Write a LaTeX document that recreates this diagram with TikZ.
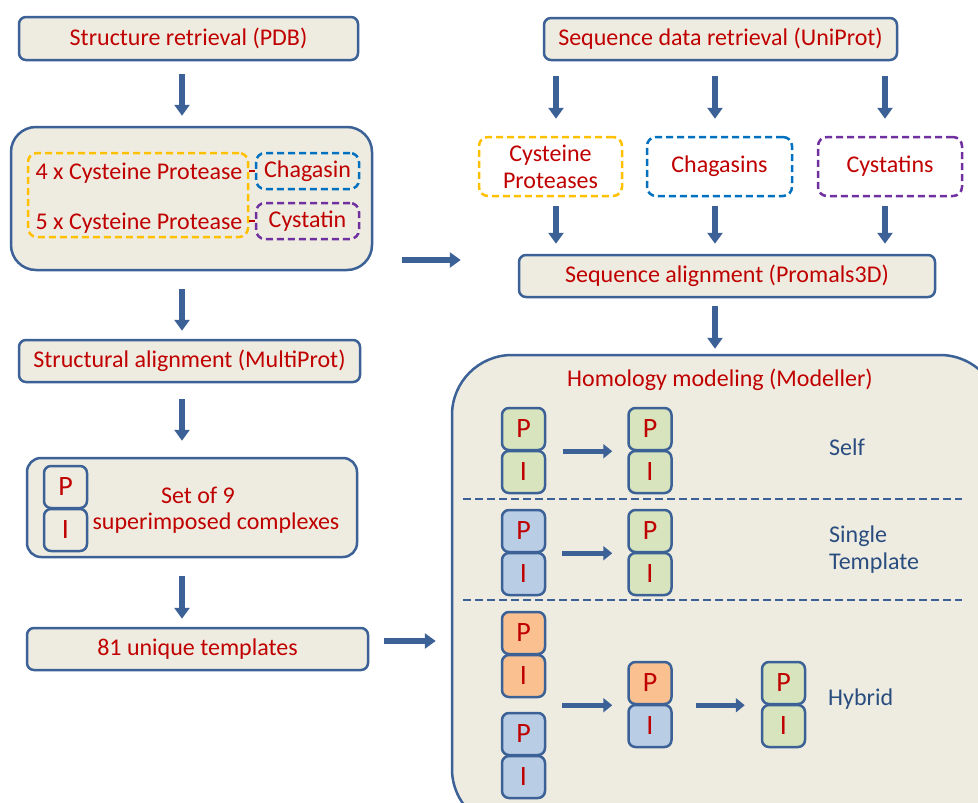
\documentclass[tikz,border=0pt]{standalone}
\usepackage{fontspec}
\setmainfont{Carlito}
\usetikzlibrary{arrows.meta,calc}
\definecolor{bfill}{HTML}{EEECE1}
\definecolor{bord}{HTML}{3B6196}
\definecolor{tred}{HTML}{C00000}
\definecolor{lblue}{HTML}{2A4D7F}
\definecolor{gfill}{HTML}{D7E4BD}
\definecolor{blfill}{HTML}{B9CDE5}
\definecolor{ofill}{HTML}{FAC090}
\definecolor{dyel}{HTML}{FFC000}
\definecolor{dblu}{HTML}{0070C0}
\definecolor{dpur}{HTML}{7030A0}
\newcommand\pistack[5]{%
  \node[pb,fill=#4] (#1p) at ({#2},{#3}) {P};
  \node[pb,fill=#5] (#1i) at ({#2},{#3+43}) {I};}
\begin{document}
\begin{tikzpicture}[x=1pt,y=-1pt,
  box/.style={draw=bord, fill=bfill, line width=2.5pt, rounded corners=7pt, text=tred,
    font=\fontsize{24}{28}\selectfont, inner sep=0pt},
  txt/.style={text=tred, font=\fontsize{24}{28}\selectfont, inner sep=0pt},
  lbl/.style={text=lblue, font=\fontsize{24}{28}\selectfont, inner sep=0pt, anchor=west, align=left},
  dbox/.style={draw=#1, line width=2.5pt, dash pattern=on 7pt off 4pt, rounded corners=9pt,
    text=tred, font=\fontsize{24}{28}\selectfont, inner sep=0pt, align=center},
  pb/.style={draw=bord, line width=2.5pt, rounded corners=7pt, minimum width=43pt,
    minimum height=42pt, inner sep=0pt, text=tred, font=\fontsize{28}{30}\selectfont},
  arr/.style={draw=bord, line width=5.5pt, -{Triangle[length=11pt,width=15pt]}},
  parr/.style={draw=bord, line width=5pt, -{Triangle[length=9pt,width=14pt]}},
  sep/.style={draw=bord, line width=2.5pt, dash pattern=on 8pt off 4pt},
  redln/.style={draw=tred, line width=1.5pt}]
\useasboundingbox (0,0) rectangle (978,803);
\clip (0,0) rectangle (978,803);

% ---------- left column ----------
\node[box, minimum width=339pt, minimum height=43pt] (b1) at (188.5,38.5) {Structure retrieval (PDB)};
\node[box, minimum width=361pt, minimum height=143pt, rounded corners=25pt] (b2) at (191.5,198.5) {};
\node[dbox=dyel, minimum width=220pt, minimum height=84pt] (ycp) at (138,195) {};
\node[txt] (cp4) at (139,173) {4 x Cysteine Protease};
\node[txt] (cp5) at (139,223) {5 x Cysteine Protease};
\node[dbox=dblu, minimum width=103pt, minimum height=36pt] (chag) at (307.5,171) {Chagasin};
\node[dbox=dpur, minimum width=103pt, minimum height=36pt] (cyst) at (307.5,221) {Cystatin};
\draw[redln] (ycp.east |- chag.west) -- (chag.west);
\draw[redln] (ycp.east |- cyst.west) -- (cyst.west);

\node[box, minimum width=341pt, minimum height=42pt] (b3) at (189.5,361) {Structural alignment (MultiProt)};
\node[box, minimum width=330pt, minimum height=99pt, rounded corners=14pt] (b4) at (192,507.5) {};
\pistack{bp}{65.5}{487}{bfill}{bfill}
\node[txt] (t4a) at (198,495) {Set of 9};
\node[txt] (t4b) at (216,523) {superimposed complexes};
\node[box, minimum width=341pt, minimum height=42pt] (b5) at (197.5,649) {81 unique templates};

\draw[arr, shorten <=13pt, shorten >=10pt] ([xshift=-6.5pt]b1.south) -- ([xshift=-9.5pt]b2.north);
\draw[arr, shorten <=18pt, shorten >=8pt] ([xshift=-9.5pt]b2.south) -- ([xshift=-7.5pt]b3.north);
\draw[arr, shorten <=16pt, shorten >=16pt] ([xshift=-7.5pt]b3.south) -- ([xshift=-10pt]b4.north);
\draw[arr, shorten <=18pt, shorten >=8pt] ([xshift=-10pt]b4.south) -- ([xshift=-15.5pt]b5.north);

% ---------- right column ----------
\node[box, minimum width=353pt, minimum height=42pt] (seq) at (720.5,39) {Sequence data retrieval (UniProt)};
\node[dbox=dyel, minimum width=143pt, minimum height=59pt] (dcp) at (550.5,166.5) {Cysteine\\[-1pt]Proteases};
\node[dbox=dblu, minimum width=145pt, minimum height=59pt] (dchg) at (719.5,166.5) {Chagasins};
\node[dbox=dpur, minimum width=144pt, minimum height=59pt] (dcys) at (890,166.5) {Cystatins};
\node[box, minimum width=416pt, minimum height=42pt] (aln) at (727,276) {Sequence alignment (Promals3D)};

\draw[arr, shorten <=15pt, shorten >=17pt] ([xshift=-164.5pt]seq.south) -- ([xshift=5.5pt]dcp.north);
\draw[arr, shorten <=15pt, shorten >=17pt] ([xshift=-5.5pt]seq.south) -- ([xshift=-4.5pt]dchg.north);
\draw[arr, shorten <=15pt, shorten >=17pt] ([xshift=164.5pt]seq.south) -- ([xshift=-5pt]dcys.north);
\draw[arr, shorten <=9pt, shorten >=10pt] ([xshift=5.5pt]dcp.south) -- ([xshift=-171pt]aln.north);
\draw[arr, shorten <=9pt, shorten >=10pt] ([xshift=-4.5pt]dchg.south) -- ([xshift=-12pt]aln.north);
\draw[arr, shorten <=9pt, shorten >=10pt] ([xshift=-5pt]dcys.south) -- ([xshift=158pt]aln.north);

% ---------- homology modelling ----------
\node[box, minimum width=548pt, minimum height=474pt, rounded corners=60pt] (hom) at (726,592) {};
\node[txt] (homt) at (720,380) {Homology modeling (Modeller)};
\draw[arr, shorten <=8pt, shorten >=5pt] ([xshift=-12pt]aln.south) -- ([xshift=-11pt]hom.north);

\draw[arr, shorten <=29pt, shorten >=57pt] ([yshift=-61.5pt]b2.east) -- ([yshift=16pt]aln.west);
\draw[arr, shorten <=15pt, shorten >=15pt] ([yshift=8pt]b5.east) -- ([yshift=-49pt]hom.west);

\draw[sep] (463,499) -- (962,499);
\draw[sep] (463,600) -- (962,600);

% self
\pistack{sL}{523.5}{429}{gfill}{gfill}
\pistack{sR}{650}{429}{gfill}{gfill}
\draw[parr, shorten <=17pt, shorten >=15pt] (sLp.south east) -- (sRp.south west);
\node[lbl] (lself) at (829,447) {Self};
% single template
\pistack{tL}{523.5}{531}{blfill}{blfill}
\pistack{tR}{650}{531}{gfill}{gfill}
\draw[parr, shorten <=16pt, shorten >=15pt] (tLp.south east) -- (tRp.south west);
\node[lbl] (lsingle) at (829,550) {Single\\[-1pt]Template};
% hybrid
\pistack{hA}{523.5}{633}{ofill}{ofill}
\pistack{hB}{523.5}{734}{blfill}{blfill}
\pistack{hM}{650}{683}{ofill}{blfill}
\pistack{hR}{783.5}{683}{gfill}{gfill}
\draw[parr, shorten <=16pt, shorten >=15pt] (hAi.east |- hMp.south) -- (hMp.south west);
\draw[parr, shorten <=23pt, shorten >=16pt] (hMp.south east) -- (hRp.south west);
\node[lbl] (lhyb) at (828,699) {Hybrid};
\end{tikzpicture}
\end{document}
